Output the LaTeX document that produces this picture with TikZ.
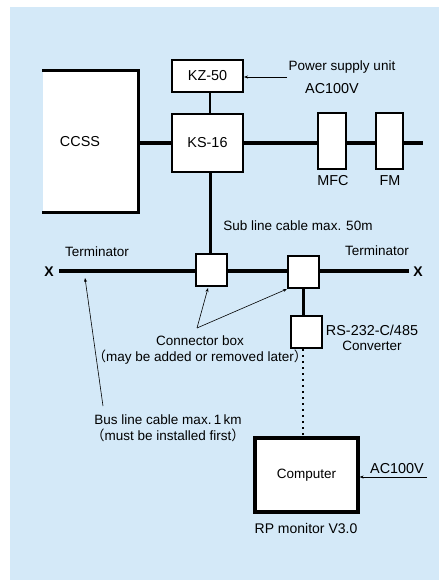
\documentclass[tikz,border=0pt]{standalone}
\usepackage{fontspec}
\setmainfont{Liberation Sans}
\newfontfamily\cjk{Noto Sans CJK JP}
\usetikzlibrary{arrows.meta,positioning}
\definecolor{panelblue}{RGB}{212,233,248}

\begin{document}
\begin{tikzpicture}[
  x=1pt, y=-1pt,
  font=\fontsize{13.5}{15}\selectfont,
  unitbox/.style={draw, line width=2pt, fill=white, inner sep=0pt,
              font=\fontsize{14.4}{16}\selectfont},
  cbox/.style={unitbox, minimum width=31pt, minimum height=32pt},
  bus/.style={line width=3.2pt},
  sub/.style={line width=3pt},
  note/.style={-{Stealth[length=4pt,width=3pt]}, line width=0.6pt},
  lbl/.style={align=center, inner sep=0pt},
  term/.style={font=\fontsize{14}{16}\selectfont\bfseries, inner sep=0pt}
]
\useasboundingbox (0,0) rectangle (439,580);
\fill[panelblue] (10,7) rectangle (439,580);

% units on the upper line
\node[unitbox, draw=none, minimum width=94pt, minimum height=139pt,
      label={[xshift=-10pt,font=\fontsize{14.4}{16}\selectfont]center:CCSS}] (ccss) at (90,141.5) {};
\draw[line width=3pt] (ccss.north west) -- (ccss.north east) -- (ccss.south east) -- (ccss.south west);
\node[unitbox, minimum width=71pt, minimum height=32pt] (kz) at (207.5,76) {KZ-50};
\node[unitbox, minimum width=71pt, minimum height=58pt] (ks) at (207.5,143) {KS-16};
\node[unitbox, minimum width=28pt, minimum height=56pt] (mfc) at (332,141) {};
\node[unitbox, minimum width=27pt, minimum height=56pt] (fm) at (389.5,141) {};
\node[lbl, font=\fontsize{14.4}{16}\selectfont] (mfclbl) at (333,181) {MFC};
\node[lbl, font=\fontsize{14.4}{16}\selectfont] (fmlbl) at (390,181) {FM};
\coordinate (upend) at (423,143);

% bus line
\node[cbox] (cb1) at (211,269.5) {};
\node[cbox] (cb2) at (303.5,272) {};
\node[term] (xl) at (49,272) {X};
\node[term] (xr) at (418,272) {X};
\coordinate (busl) at (59,271);
\coordinate (busr) at (409,271);
\node[cbox] (conv) at (306.5,332) {};
\node[unitbox, line width=3.2pt, minimum width=103pt, minimum height=74pt,
      font=\fontsize{13.5}{15}\selectfont] (comp) at (306.5,475) {Computer};

% wiring
\draw[line width=1.5pt] (kz.south -| 210,0) -- (ks.north -| 210,0);
\draw[bus] (ccss.east |- ks.west) -- (ks.west);
\draw[bus] (ks.east) -- (mfc.west |- ks.east);
\draw[bus] (mfc.east |- ks.east) -- (fm.west |- ks.east);
\draw[bus] (fm.east |- ks.east) -- (upend);
\draw[sub] (ks.south -| 210,0) -- (cb1.north -| 210,0);
\draw[bus] (busl) -- (cb1.west |- busl);
\draw[bus] (cb1.east |- busl) -- (cb2.west |- busl);
\draw[bus] (cb2.east |- busl) -- (busr);
\draw[sub] (cb2.south -| 303,0) -- (conv.north -| 303,0);
\draw[line width=2pt, dash pattern=on 2pt off 4pt] (conv.south -| 303,0) -- (comp.north -| 303,0);

% notes
\node[lbl] (psu) at (342,67) {Power supply unit};
\node[lbl, font=\fontsize{14.4}{16}\selectfont] (ac1) at (332,89) {AC100V};
\coordinate (psutail) at (287,77);
\draw[note] (psutail) -- (kz.east |- psutail);

\node[lbl] (subcab) at (298,226) {Sub line cable max. 50m};
\node[lbl] (terml) at (97,252) {Terminator};
\node[lbl] (termr) at (377,251) {Terminator};

\node[lbl, font=\fontsize{14.4}{16}\selectfont] (convlbl) at (372,338)
  {RS-232-C/485\\[-1pt]{\fontsize{13.5}{15}\selectfont Converter}};

\node[lbl] (cblbl) at (200,350)
  {Connector box\\[1pt]{\cjk （}may be added or removed later{\cjk ）}};
\coordinate (cbtip) at (197,328);
\draw[note] (cbtip) -- (208,288);
\draw[note] (cbtip) -- (287,289);

\node[lbl] (buslbl) at (168,428)
  {Bus line cable max.\,1\,km\\[1pt]{\cjk （}must be installed first{\cjk ）}};
\coordinate (bustip) at (103,406);
\draw[note] (bustip) -- (85,278);

\node[lbl, font=\fontsize{14.4}{16}\selectfont] (ac2) at (397,469) {AC100V};
\coordinate (ac2tail) at (427,477);
\draw[note] (ac2tail) -- (comp.east |- ac2tail);
\node[lbl, font=\fontsize{14}{16}\selectfont] (rpmon) at (306,528) {RP monitor V3.0};
\end{tikzpicture}
\end{document}
